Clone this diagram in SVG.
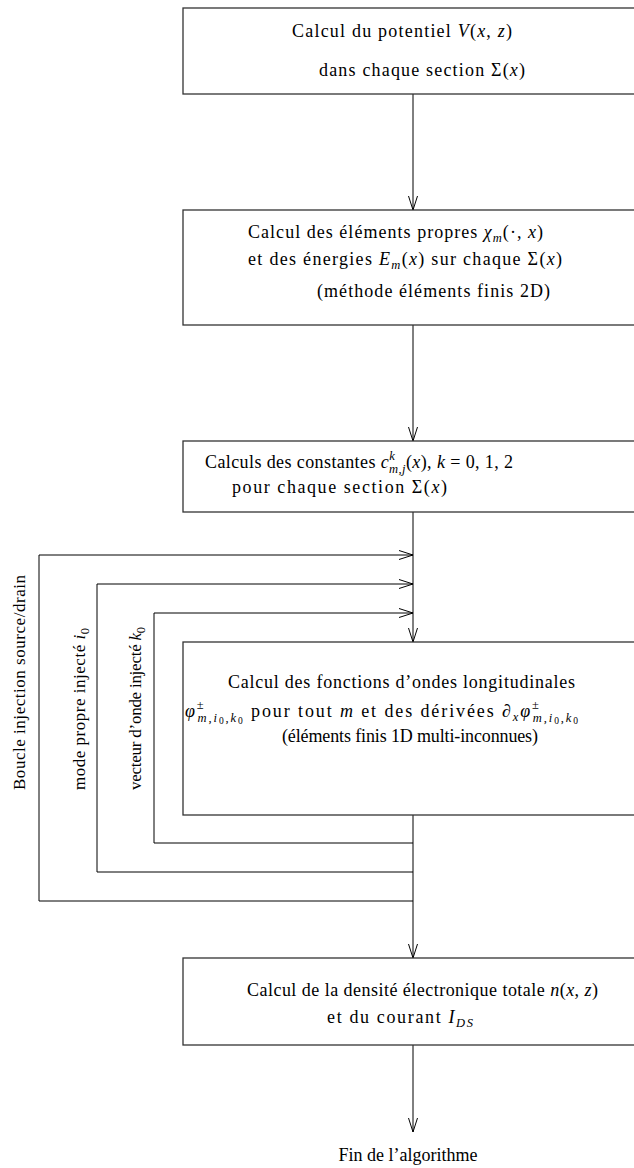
<svg xmlns="http://www.w3.org/2000/svg" width="634" height="1168" viewBox="0 0 634 1168">
<defs>
<style>
.box{fill:none;stroke:#333;stroke-width:1.3}
.t{font-family:"Liberation Serif","Times New Roman",serif;font-size:18px;fill:#000}
.v{font-family:"Liberation Serif","Times New Roman",serif;font-size:17px;fill:#000}
.i{font-style:italic}
.s{font-size:12.5px}
.ss{font-size:9.5px}
.c{fill:none;stroke:#000;stroke-width:1}
</style>
<marker id="a" markerWidth="16" markerHeight="10" refX="14" refY="5" orient="auto" markerUnits="userSpaceOnUse">
<path d="M0,0.5 L14,5 L0,9.5" fill="none" stroke="#000" stroke-width="1"/>
</marker>
</defs>
<rect width="634" height="1168" fill="#fff"/>
<g id="connectors">
<path class="c" d="M413,94 V210" marker-end="url(#a)"/>
<path class="c" d="M413,325 V441" marker-end="url(#a)"/>
<path class="c" d="M413,512 V642" marker-end="url(#a)"/>
<path class="c" d="M413,815 V958" marker-end="url(#a)"/>
<path class="c" d="M413,1045 V1132" marker-end="url(#a)"/>
<path class="c" d="M413,901 H39 V555 H413" marker-end="url(#a)"/>
<path class="c" d="M413,872 H97 V584 H413" marker-end="url(#a)"/>
<path class="c" d="M413,843 H154 V613 H413" marker-end="url(#a)"/>
</g>
<g id="n1">
<rect class="box" x="183" y="8" width="460" height="86"/>
<text class="t" x="292" y="37" textLength="220" lengthAdjust="spacing">Calcul du potentiel <tspan class="i">V</tspan>(<tspan class="i">x</tspan>, <tspan class="i">z</tspan>)</text>
<text class="t" x="319" y="76" textLength="206" lengthAdjust="spacing">dans chaque section Σ(<tspan class="i">x</tspan>)</text>
</g>
<g id="n2">
<rect class="box" x="183" y="210" width="460" height="115"/>
<text class="t" x="248" y="238" textLength="295" lengthAdjust="spacing">Calcul des éléments propres <tspan class="i">χ</tspan><tspan class="s i" dy="4">m</tspan><tspan dy="-4">(·, </tspan><tspan class="i">x</tspan>)</text>
<text class="t" x="248" y="265" textLength="314" lengthAdjust="spacing">et des énergies <tspan class="i">E</tspan><tspan class="s i" dy="4">m</tspan><tspan dy="-4">(</tspan><tspan class="i">x</tspan>) sur chaque Σ(<tspan class="i">x</tspan>)</text>
<text class="t" x="317" y="297" textLength="233" lengthAdjust="spacing">(méthode éléments finis 2D)</text>
</g>
<g id="n3">
<rect class="box" x="183" y="441" width="460" height="71"/>
<text class="t" x="205" y="468" textLength="308" lengthAdjust="spacing">Calculs des constantes <tspan class="i">c</tspan><tspan class="s i" dy="-8">k</tspan><tspan class="s i" dx="-6" dy="13">m</tspan><tspan class="s">,</tspan><tspan class="s i">j</tspan><tspan dy="-5">(</tspan><tspan class="i">x</tspan>), <tspan class="i">k</tspan> = 0, 1, 2</text>
<text class="t" x="232" y="493" textLength="215" lengthAdjust="spacing">pour chaque section Σ(<tspan class="i">x</tspan>)</text>
</g>
<g id="n4">
<rect class="box" x="183" y="642" width="460" height="173"/>
<text class="t" x="228" y="688" textLength="347" lengthAdjust="spacing">Calcul des fonctions d’ondes longitudinales</text>
<text class="t" x="185" y="717" textLength="393" lengthAdjust="spacing"><tspan class="i">φ</tspan><tspan class="s" dy="-8">±</tspan><tspan class="s i" dx="-8" dy="13">m</tspan><tspan class="s">,</tspan><tspan class="s i">i</tspan><tspan class="ss" dy="2">0</tspan><tspan class="s" dy="-2">,</tspan><tspan class="s i">k</tspan><tspan class="ss" dy="2">0</tspan><tspan dy="-7"> pour tout </tspan><tspan class="i">m</tspan> et des dérivées ∂<tspan class="s i" dy="4">x</tspan><tspan class="i" dy="-4">φ</tspan><tspan class="s" dy="-8">±</tspan><tspan class="s i" dx="-8" dy="13">m</tspan><tspan class="s">,</tspan><tspan class="s i">i</tspan><tspan class="ss" dy="2">0</tspan><tspan class="s" dy="-2">,</tspan><tspan class="s i">k</tspan><tspan class="ss" dy="2">0</tspan></text>
<text class="t" x="282" y="742" textLength="256" lengthAdjust="spacing">(éléments finis 1D multi-inconnues)</text>
</g>
<g id="n5">
<rect class="box" x="183" y="958" width="460" height="87"/>
<text class="t" x="247" y="996" textLength="351" lengthAdjust="spacing">Calcul de la densité électronique totale <tspan class="i">n</tspan>(<tspan class="i">x</tspan>, <tspan class="i">z</tspan>)</text>
<text class="t" x="327" y="1023" textLength="146" lengthAdjust="spacing">et du courant <tspan class="i">I</tspan><tspan class="s i" dy="4">DS</tspan></text>
</g>
<g id="n6">
<text class="t" x="408" y="1161" text-anchor="middle">Fin de l’algorithme</text>
</g>
<g id="labels">
<text class="v" x="25" y="790" transform="rotate(-90 25 790)" textLength="215" lengthAdjust="spacing">Boucle injection source/drain</text>
<text class="v" x="85" y="790" transform="rotate(-90 85 790)" textLength="162" lengthAdjust="spacing">mode propre injecté <tspan class="i">i</tspan><tspan class="s" dy="4">0</tspan></text>
<text class="v" x="141" y="790" transform="rotate(-90 141 790)" textLength="163" lengthAdjust="spacing">vecteur d’onde injecté <tspan class="i">k</tspan><tspan class="s" dy="4">0</tspan></text>
</g>
</svg>
